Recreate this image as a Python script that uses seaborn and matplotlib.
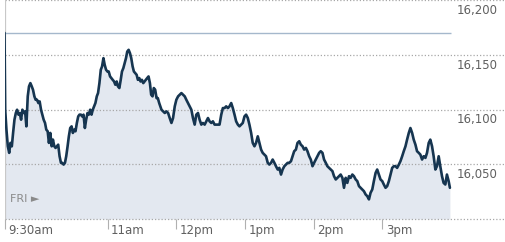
import matplotlib
matplotlib.use("Agg")
import matplotlib.pyplot as plt
import matplotlib.transforms as mtransforms
import numpy as np
import pandas as pd
import seaborn as sns

# ---------------- data ----------------
minutes_after_open = [
    0.0, 0.6, 1.7, 2.9, 4.1, 5.2, 6.4, 7.5, 8.7, 9.9, 11.0, 12.2, 13.3, 14.5, 15.6, 16.8,
    18.0, 19.1, 20.3, 21.4, 22.6, 23.8, 24.9, 26.1, 27.2, 28.4, 29.6, 30.7, 31.9, 33.0,
    34.2, 35.4, 36.5, 37.7, 38.8, 40.0, 41.2, 42.3, 43.5, 44.6, 45.8, 46.9, 48.1, 49.3,
    50.4, 51.6, 52.8, 53.9, 55.1, 56.2, 57.4, 58.6, 59.7, 60.9, 62.0, 63.2, 64.4, 65.5,
    66.7, 67.8, 69.0, 70.2, 71.3, 72.5, 73.6, 74.8, 76.0, 77.1, 78.3, 79.4, 80.6, 81.7,
    82.9, 84.1, 85.2, 86.4, 87.5, 88.7, 89.9, 91.0, 92.2, 93.3, 94.5, 95.7, 96.8, 98.0,
    99.1, 100.3, 101.5, 102.6, 103.8, 104.9, 106.1, 107.2, 108.4, 109.6, 110.7, 111.9,
    113.0, 114.2, 115.4, 116.5, 117.7, 118.8, 120.0, 121.2, 122.3, 123.5, 124.6, 125.8,
    127.0, 128.1, 129.3, 130.4, 131.6, 132.8, 133.9, 135.1,
    137.1, 138.6, 140.0, 141.5, 142.9, 144.3, 145.8, 147.2, 148.7, 150.1, 151.6, 153.0,
    154.5, 156.0, 157.4, 158.8, 160.3, 161.7, 163.2, 164.6, 166.1, 167.5, 169.0, 170.4,
    171.9, 173.3, 174.8, 176.2, 177.7, 179.1, 180.6, 182.0, 183.5, 184.9, 186.4, 187.8,
    189.3, 190.7, 192.2, 193.6, 195.1, 196.5, 198.0, 199.4, 200.9, 202.3, 203.8, 205.2,
    206.7, 208.1, 209.6, 211.0, 212.5, 213.9, 215.4, 216.8, 218.3, 219.7, 221.2, 222.6,
    224.1, 225.5, 227.0, 228.4, 229.9, 231.3, 232.8, 234.2, 235.7, 237.1, 238.6, 240.0,
    241.5, 242.9, 244.4, 245.8, 247.3, 248.7, 250.2, 251.6, 253.0, 254.5, 255.9, 257.4,
    258.8, 260.3, 261.7, 263.2, 264.6, 266.1, 267.5, 269.0, 270.4, 271.9, 273.3,
    274.8, 276.2, 277.7, 279.1, 280.6, 282.0, 283.5, 284.9, 286.4, 287.8, 289.3, 290.7,
    292.2, 293.6, 295.1, 296.5, 298.0, 299.4, 300.9, 302.3, 303.8, 305.2, 306.7, 308.1,
    309.6, 311.0, 312.5, 313.9, 315.4, 316.8, 318.3, 319.7, 321.2, 322.6, 324.1, 325.5,
    327.0, 328.4, 329.9, 331.3, 332.8, 334.2, 335.7, 337.1, 338.6, 340.0, 341.5, 342.9,
    344.4, 345.8, 347.3, 348.7, 350.2, 351.6, 353.1, 354.5, 356.0, 357.4, 358.9, 360.3,
    361.8, 363.2, 364.7, 366.1, 367.6, 369.0, 370.5, 371.9, 373.4, 374.8, 376.3, 377.7,
    379.2, 380.6, 382.1, 383.5, 385.0, 386.4, 387.9, 389.0,
]
index_level = [
    16170.0, 16099.8, 16081.6, 16066.4, 16060.4, 16069.5, 16066.4, 16078.6, 16090.7,
    16096.8, 16099.8, 16095.3, 16096.8, 16090.7, 16099.8, 16096.8, 16098.3, 16084.6,
    16112.0, 16121.1, 16124.1, 16121.1, 16118.0, 16112.0, 16108.9, 16108.9, 16105.9,
    16107.4, 16099.8, 16095.3, 16090.7, 16087.7, 16081.6, 16080.1, 16069.5, 16078.6,
    16066.4, 16072.5, 16066.4, 16064.9, 16066.4, 16067.9, 16057.3, 16051.3, 16051.3,
    16049.7, 16051.3, 16057.3, 16066.4, 16075.5, 16083.1, 16084.6, 16078.6, 16081.6,
    16080.1, 16087.7, 16093.7, 16095.3, 16095.3, 16093.7, 16095.3, 16083.1, 16090.7,
    16096.8, 16095.3, 16099.8, 16095.3, 16099.8, 16102.9, 16105.9, 16112.0, 16115.0,
    16124.1, 16136.3, 16139.3, 16146.9, 16140.8, 16136.3, 16134.7, 16134.7, 16130.2,
    16128.7, 16127.1, 16125.6, 16122.6, 16125.6, 16121.1, 16119.6, 16127.1, 16134.7,
    16137.8, 16142.3, 16146.9, 16152.9, 16154.5, 16151.4, 16146.9, 16139.3, 16134.7,
    16133.2, 16131.7, 16127.1, 16128.7, 16125.6, 16127.1, 16124.1, 16125.6, 16127.1,
    16128.7, 16130.2, 16124.1, 16113.5, 16112.0, 16119.6, 16118.0, 16110.4, 16110.4,
    16105.9,
    16099.8, 16098.3, 16096.8, 16098.3, 16096.8, 16092.2, 16087.7, 16092.2, 16102.9,
    16108.9, 16112.0, 16113.5, 16115.0, 16113.5, 16112.0, 16108.9, 16105.9, 16102.9,
    16099.8, 16092.2, 16086.2, 16095.3, 16096.8, 16090.7, 16086.2, 16087.7, 16086.2,
    16089.2, 16092.2, 16089.2, 16087.7, 16089.2, 16086.2, 16086.2, 16086.2, 16086.2,
    16095.3, 16101.3, 16101.3, 16102.9, 16101.3, 16102.9, 16105.9, 16101.3, 16095.3,
    16089.2, 16086.2, 16084.6, 16086.2, 16087.7, 16093.7, 16095.3, 16092.2, 16086.2,
    16078.6, 16069.5, 16066.4, 16069.5, 16075.5, 16069.5, 16063.4, 16060.4, 16058.8,
    16057.3, 16051.3, 16049.7, 16051.3, 16054.3, 16051.3, 16048.2, 16045.2, 16046.7,
    16040.6, 16045.2, 16048.2, 16049.7, 16051.3, 16051.3, 16052.8, 16057.3, 16061.9,
    16063.4, 16069.5, 16071.0, 16067.9, 16066.4, 16063.4, 16064.9, 16061.9, 16057.3,
    16054.3, 16048.2, 16051.3, 16054.3, 16057.3,
    16060.4, 16061.9, 16060.4, 16054.3, 16051.3, 16048.2, 16046.7, 16045.2, 16043.7,
    16039.1, 16036.1, 16037.6, 16039.1, 16040.6, 16037.6, 16028.5, 16037.6, 16033.0,
    16039.1, 16037.6, 16040.6, 16039.1, 16036.1, 16034.6, 16030.0, 16028.5, 16027.0,
    16025.4, 16022.4, 16020.9, 16017.9, 16023.9, 16027.0, 16034.6, 16042.1, 16045.2,
    16040.6, 16036.1, 16034.6, 16031.5, 16028.5, 16030.0, 16034.6, 16040.6, 16046.7,
    16048.2, 16048.2, 16046.7, 16049.7, 16052.8, 16057.3, 16061.9, 16066.4, 16072.5,
    16078.6, 16083.1, 16078.6, 16072.5, 16067.9, 16061.9, 16060.4, 16058.8, 16054.3,
    16057.3, 16055.8, 16060.4, 16069.5, 16072.5, 16066.4, 16057.3, 16045.2, 16048.2,
    16057.3, 16048.2, 16039.1, 16033.0, 16031.5, 16040.6, 16034.6, 16028.5,
]
previous_close = 16170.0
time_tick_minutes = [0, 90, 150, 210, 270, 330]
time_tick_labels = ["9:30am", "11am", "12pm", "1pm", "2pm", "3pm"]
level_ticks = [16050, 16100, 16150, 16200]
level_labels = ["16,050", "16,100", "16,150", "16,200"]
day_label = "FRI \u25BA"

df = pd.DataFrame({"minute": minutes_after_open, "level": index_level})

# ---------------- style ----------------
sns.set_style("white")
plt.rcParams["font.family"] = ["DejaVu Sans"]

W, H = 505, 242
fig = plt.figure(figsize=(W / 100, H / 100), dpi=100)
left_px, bottom_px, top_px = 4.5, 219.0, 0.0
ax = fig.add_axes([left_px / W, (H - bottom_px) / H, (W - left_px) / W, (bottom_px - top_px) / H])
ax.set_facecolor("none")
px_per_min = 1.145
ax.set_xlim(0, (W - left_px) / px_per_min)
ax.set_ylim(16000, 16200)
for s in ax.spines.values():
    s.set_visible(False)

grid_col = "#a8a8a8"
# dotted grid lines spanning the full width (including the label area)
for lv in [16000] + level_ticks:
    ax.axhline(lv, color=grid_col, lw=0.9, ls=(0, (1, 1.6)), clip_on=False, zorder=1)

# fill + line
ax.fill_between(df["minute"], df["level"], 16000, color="#e3e8f0", lw=0, zorder=0)
sns.lineplot(data=df, x="minute", y="level", ax=ax, color="#163550", lw=1.9,
             zorder=4, estimator=None, sort=False)

# previous close line
ax.hlines(previous_close, 0, 390, color="#a5b8cc", lw=1.0, zorder=2)

# left edge line
ax.axvline(0, color="#c8c8c8", lw=0.9, zorder=1)

# x ticks (marks only) and labels
ax.set_xticks(time_tick_minutes)
ax.tick_params(axis="x", bottom=True, direction="out", length=7.5, width=0.8,
               color="#b0b0b0", labelbottom=False)
ax.set_yticks([])
ax.set_xlabel("")
ax.set_ylabel("")
xtr = mtransforms.blended_transform_factory(ax.transData, ax.transAxes)
off = mtransforms.ScaledTranslation(3.5 / 100, -11.5 / 100, fig.dpi_scale_trans)
for m, lab in zip(time_tick_minutes, time_tick_labels):
    ax.text(m, 0, lab, transform=xtr + off, ha="left", va="center",
            fontsize=8.5, color="#606060")

# y labels on the right, just under each grid line
ytr = mtransforms.blended_transform_factory(ax.transAxes, ax.transData)
yoff = mtransforms.ScaledTranslation(0, -10.5 / 100, fig.dpi_scale_trans)
xr = (497.5 - left_px) / (W - left_px)
for lv, lab in zip(level_ticks, level_labels):
    ax.text(xr, lv, lab, transform=ytr + yoff, ha="right", va="center",
            fontsize=8.5, color="#606060")

# day label
ax.text(0.0, 16000, day_label, transform=ax.transData +
        mtransforms.ScaledTranslation(5 / 100, 20 / 100, fig.dpi_scale_trans),
        ha="left", va="center", fontsize=8, color="#8a8a8a")

fig.savefig("out.png", dpi=100)
